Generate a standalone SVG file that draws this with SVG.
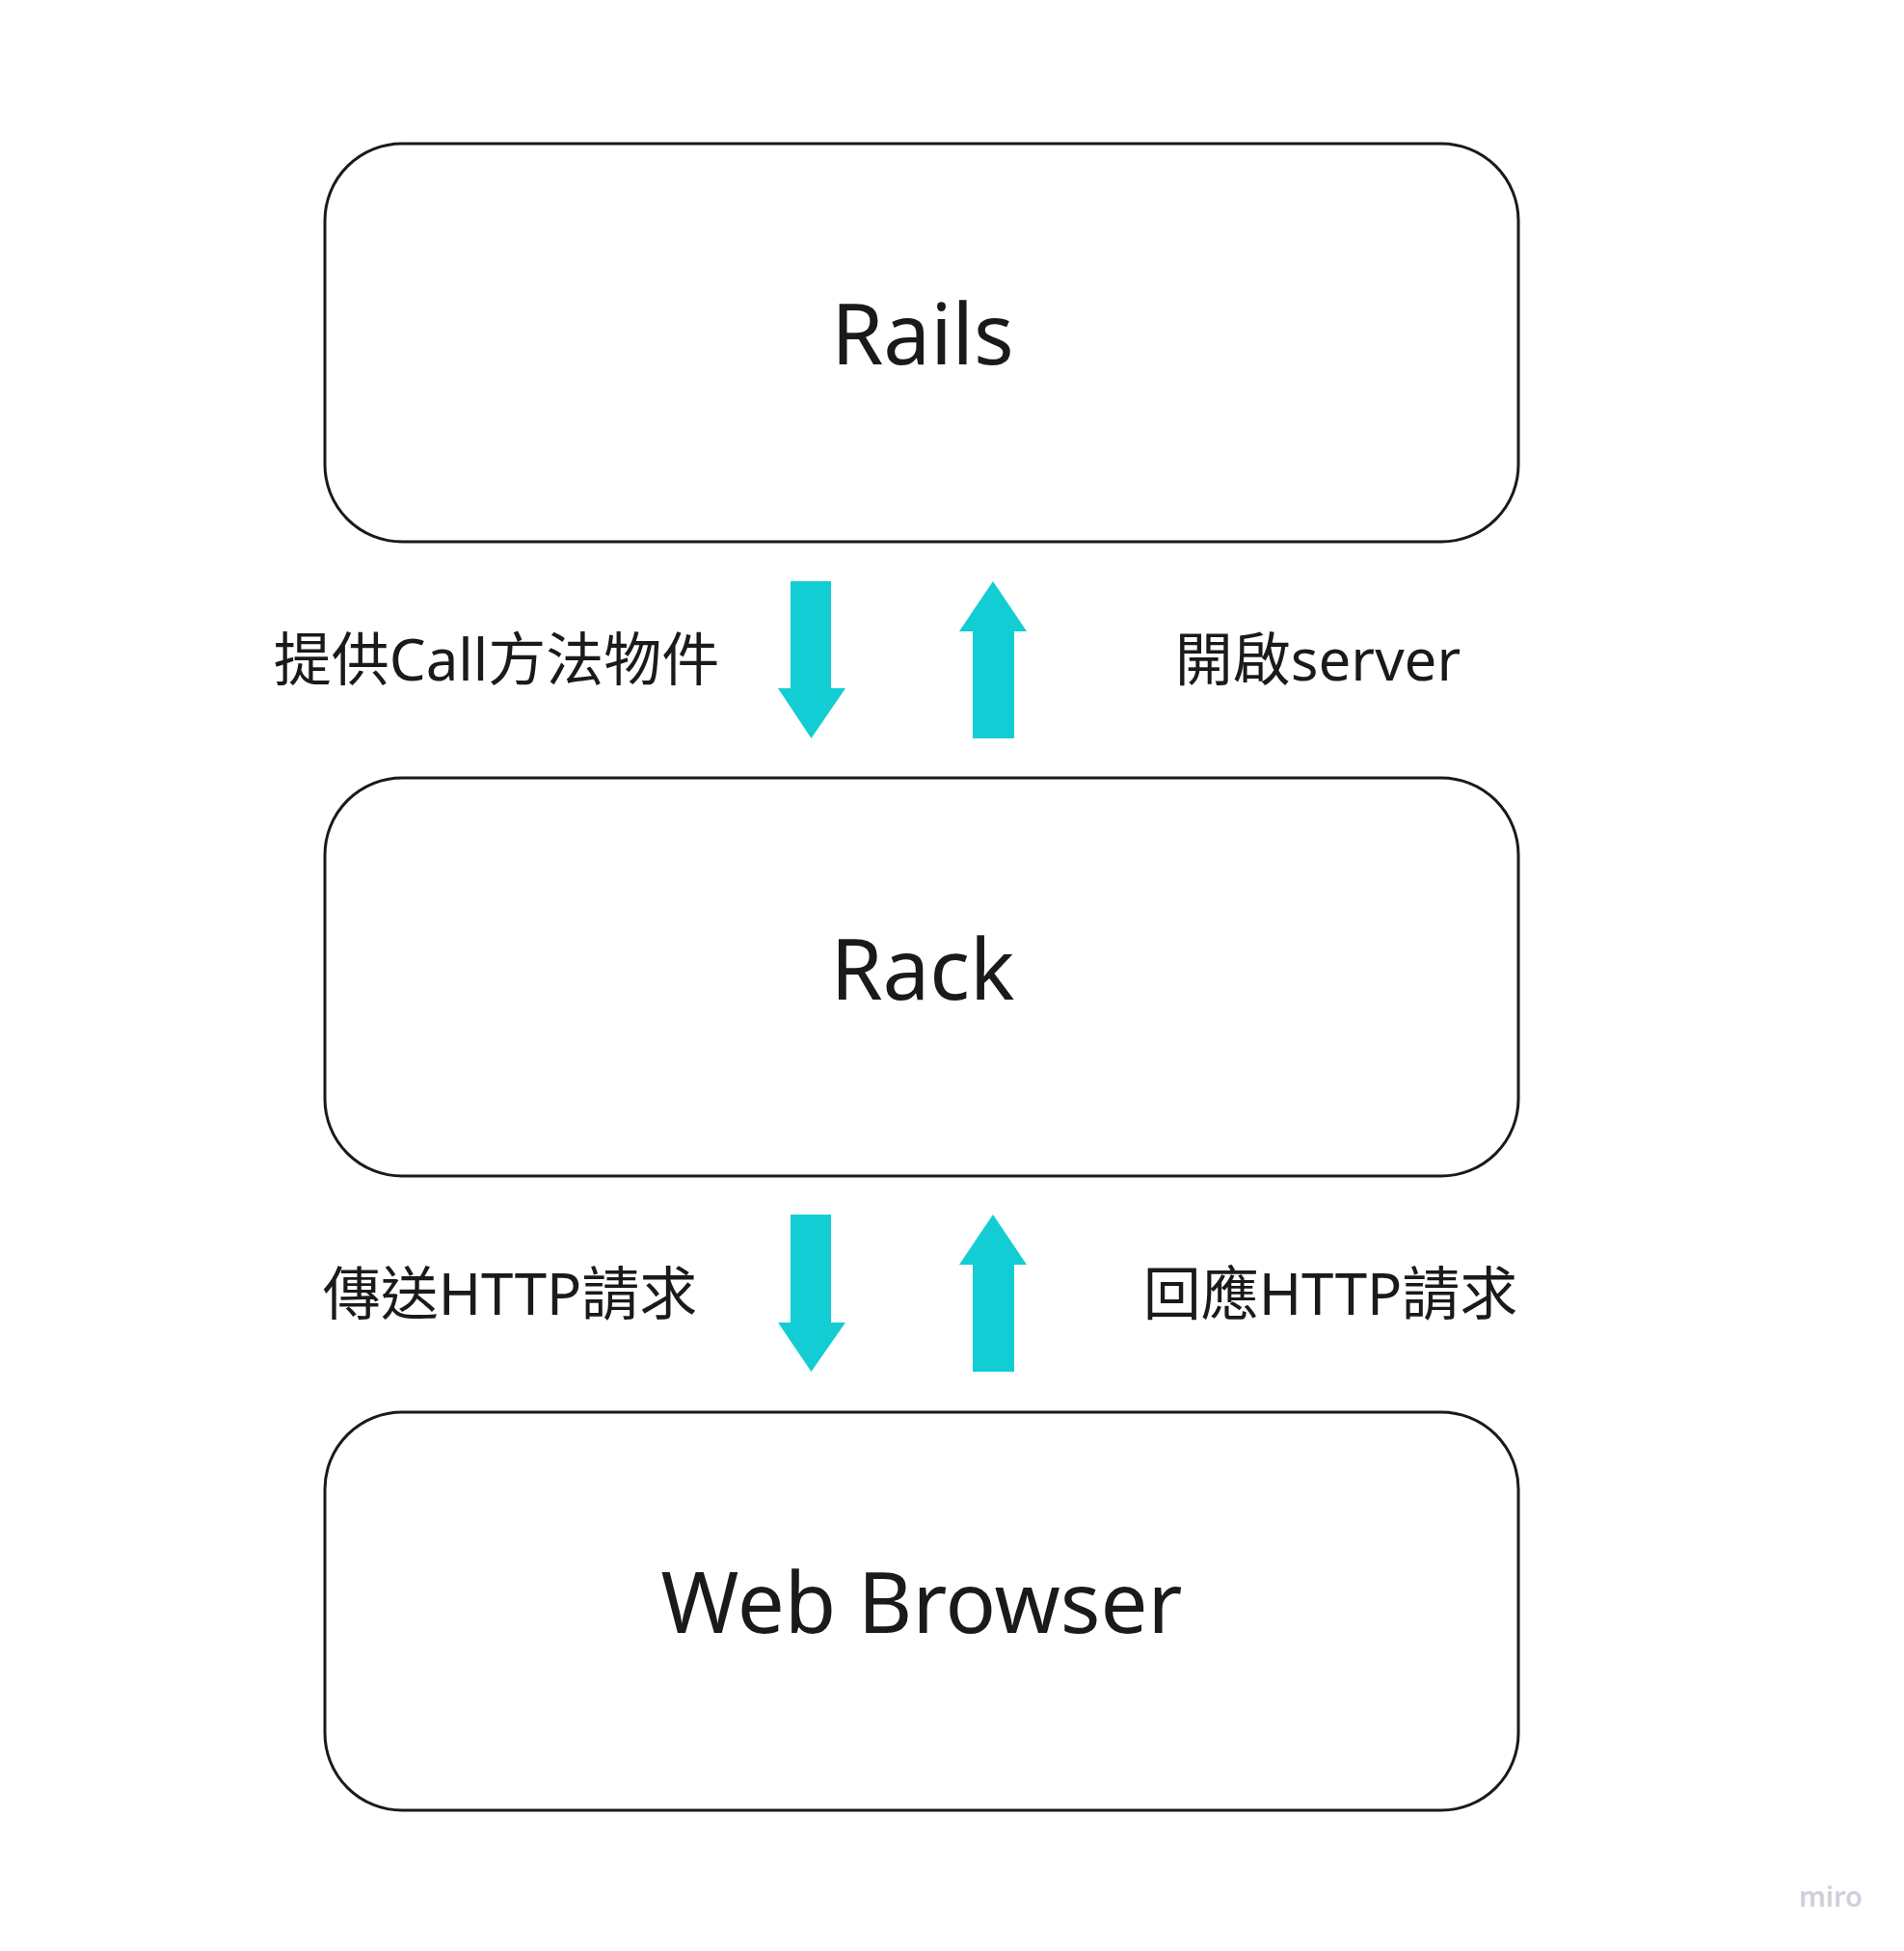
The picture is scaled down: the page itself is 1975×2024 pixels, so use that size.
<svg xmlns="http://www.w3.org/2000/svg" width="1975" height="2024" viewBox="0 0 1975 2024">
  <style>
    .box { fill: #ffffff; stroke: #1a1a1a; stroke-width: 3; }
    .node-text { font-family: "Noto Sans", "Open Sans", sans-serif; font-size: 87px; fill: #1a1a1a; text-anchor: middle; }
    .label { font-family: "Noto Sans", "Noto Sans CJK TC", sans-serif; font-size: 60px; fill: #1a1a1a; text-anchor: middle; }
    .arrow { fill: #13cdd4; }
    .wm { font-family: "Noto Sans", "Open Sans", sans-serif; font-size: 29px; font-weight: 600; fill: #cfcfdb; }
  </style>
  <rect x="0" y="0" width="1975" height="2024" fill="#ffffff"/>

  <g id="node-rails">
    <rect class="box" x="337" y="149" width="1238" height="413" rx="80" ry="80"/>
    <text class="node-text" x="957" y="378">Rails</text>
  </g>
  <g id="node-rack">
    <rect class="box" x="337" y="807" width="1238" height="413" rx="80" ry="80"/>
    <text class="node-text" x="957" y="1037">Rack</text>
  </g>
  <g id="node-browser">
    <rect class="box" x="337" y="1465" width="1238" height="413" rx="80" ry="80"/>
    <text class="node-text" x="956" y="1694">Web Browser</text>
  </g>

  <g id="connectors">
    <polygon class="arrow" points="820,603 862,603 862,714 877,714 841.5,766 807,714 820,714"/>
    <polygon class="arrow" points="1030,603 1065,655 1052,655 1052,766 1009,766 1009,655 995,655"/>
    <polygon class="arrow" points="820,1260 862,1260 862,1372 877,1372 841.5,1423 807,1372 820,1372"/>
    <polygon class="arrow" points="1030,1260 1065,1312 1052,1312 1052,1423 1009,1423 1009,1312 995,1312"/>
    <text class="label" x="515" y="706">提供Call方法物件</text>
    <text class="label" x="1367" y="706">開啟server</text>
    <text class="label" x="529" y="1364">傳送HTTP請求</text>
    <text class="label" x="1380" y="1364">回應HTTP請求</text>
  </g>

  <text class="wm" x="1866" y="1978">miro</text>
</svg>
